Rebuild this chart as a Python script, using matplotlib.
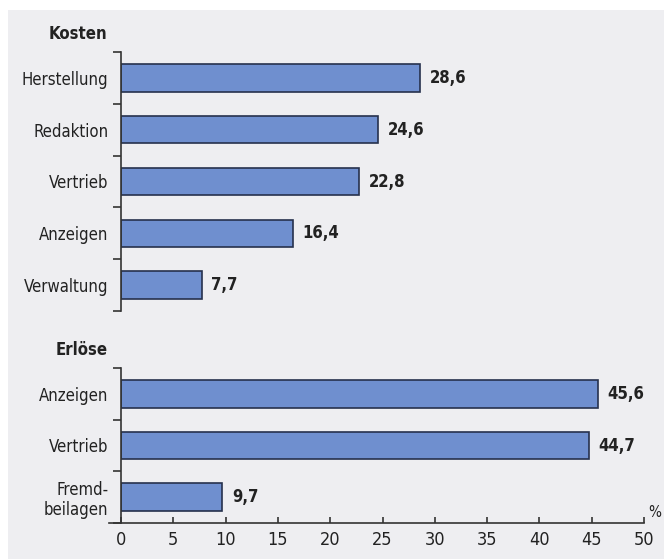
import numpy as np
import matplotlib.pyplot as plt
from matplotlib.patches import Rectangle

# data
kosten_labels = ['Herstellung', 'Redaktion', 'Vertrieb', 'Anzeigen', 'Verwaltung']
kosten_values = [28.6, 24.6, 22.8, 16.4, 7.7]
erloese_labels = ['Anzeigen', 'Vertrieb', 'Fremd-\nbeilagen']
erloese_values = [45.6, 44.7, 9.7]
x_ticks = [0, 5, 10, 15, 20, 25, 30, 35, 40, 45, 50]

plt.rcParams['font.family'] = ['DejaVu Sans']
plt.rcParams['font.stretch'] = 'condensed'

bar_color = '#6f8fcf'
edge_color = '#26314d'
text_color = '#222222'

W, H = 664, 559
fig = plt.figure(figsize=(W / 100, H / 100), dpi=100)
fig.patch.set_facecolor('white')
fig.add_artist(Rectangle((8 / W, 0), 1, 1 - 10 / H, transform=fig.transFigure,
                         facecolor='#eeeef1', edgecolor='none', zorder=-10))

left = 121 / W
width = (644 - 121) / W
ax1 = fig.add_axes([left, 1 - 311 / H, width, (311 - 52) / H])
ax2 = fig.add_axes([left, 1 - 523 / H, width, (523 - 368) / H])


def draw_section(ax, labels, values, title):
    n = len(labels)
    y = np.arange(n)
    ax.barh(y, values, height=0.53, color=bar_color, edgecolor=edge_color, linewidth=1.2)
    ax.set_ylim(n - 0.5, -0.5)
    ax.set_xlim(0, 50)
    ax.set_facecolor('none')
    for s in ['top', 'right']:
        ax.spines[s].set_visible(False)
    ax.spines['left'].set_color('#333333')
    ax.spines['left'].set_linewidth(1.2)
    # boundary ticks (major) and category labels (minor)
    ax.set_yticks(np.arange(n + 1) - 0.5)
    ax.set_yticklabels([])
    ax.tick_params(axis='y', which='major', length=6, width=1.2, color='#333333')
    ax.set_yticks(y, minor=True)
    ax.set_yticklabels(labels, minor=True, fontsize=12, color=text_color,
                       linespacing=1.1)
    ax.tick_params(axis='y', which='minor', length=0, pad=9)
    for yi, v in zip(y, values):
        ax.text(v + 0.9, yi, f'{v:.1f}'.replace('.', ','), va='center', ha='left',
                fontsize=12, fontweight='bold', color=text_color)
    ax.text(-1.3, -0.85, title, ha='right', va='center', fontsize=12,
            fontweight='bold', color=text_color)


draw_section(ax1, kosten_labels, kosten_values, 'Kosten')
draw_section(ax2, erloese_labels, erloese_values, 'Erlöse')

ax1.spines['bottom'].set_visible(False)
ax1.set_xticks([])

ax2.set_xticks(x_ticks)
ax2.set_xticklabels([str(t) for t in x_ticks], fontsize=13, color=text_color)
ax2.tick_params(axis='x', direction='in', length=4, width=1.2, color='#333333', pad=6)
ax2.spines['bottom'].set_bounds(-1.1, 50)
ax2.spines['bottom'].set_color('#333333')
ax2.spines['bottom'].set_linewidth(1.2)
ax2.text(50.4, 0.02, '%', transform=ax2.get_xaxis_transform(), ha='left', va='bottom',
         fontsize=11, color=text_color)

fig.savefig('out.png', dpi=100)
